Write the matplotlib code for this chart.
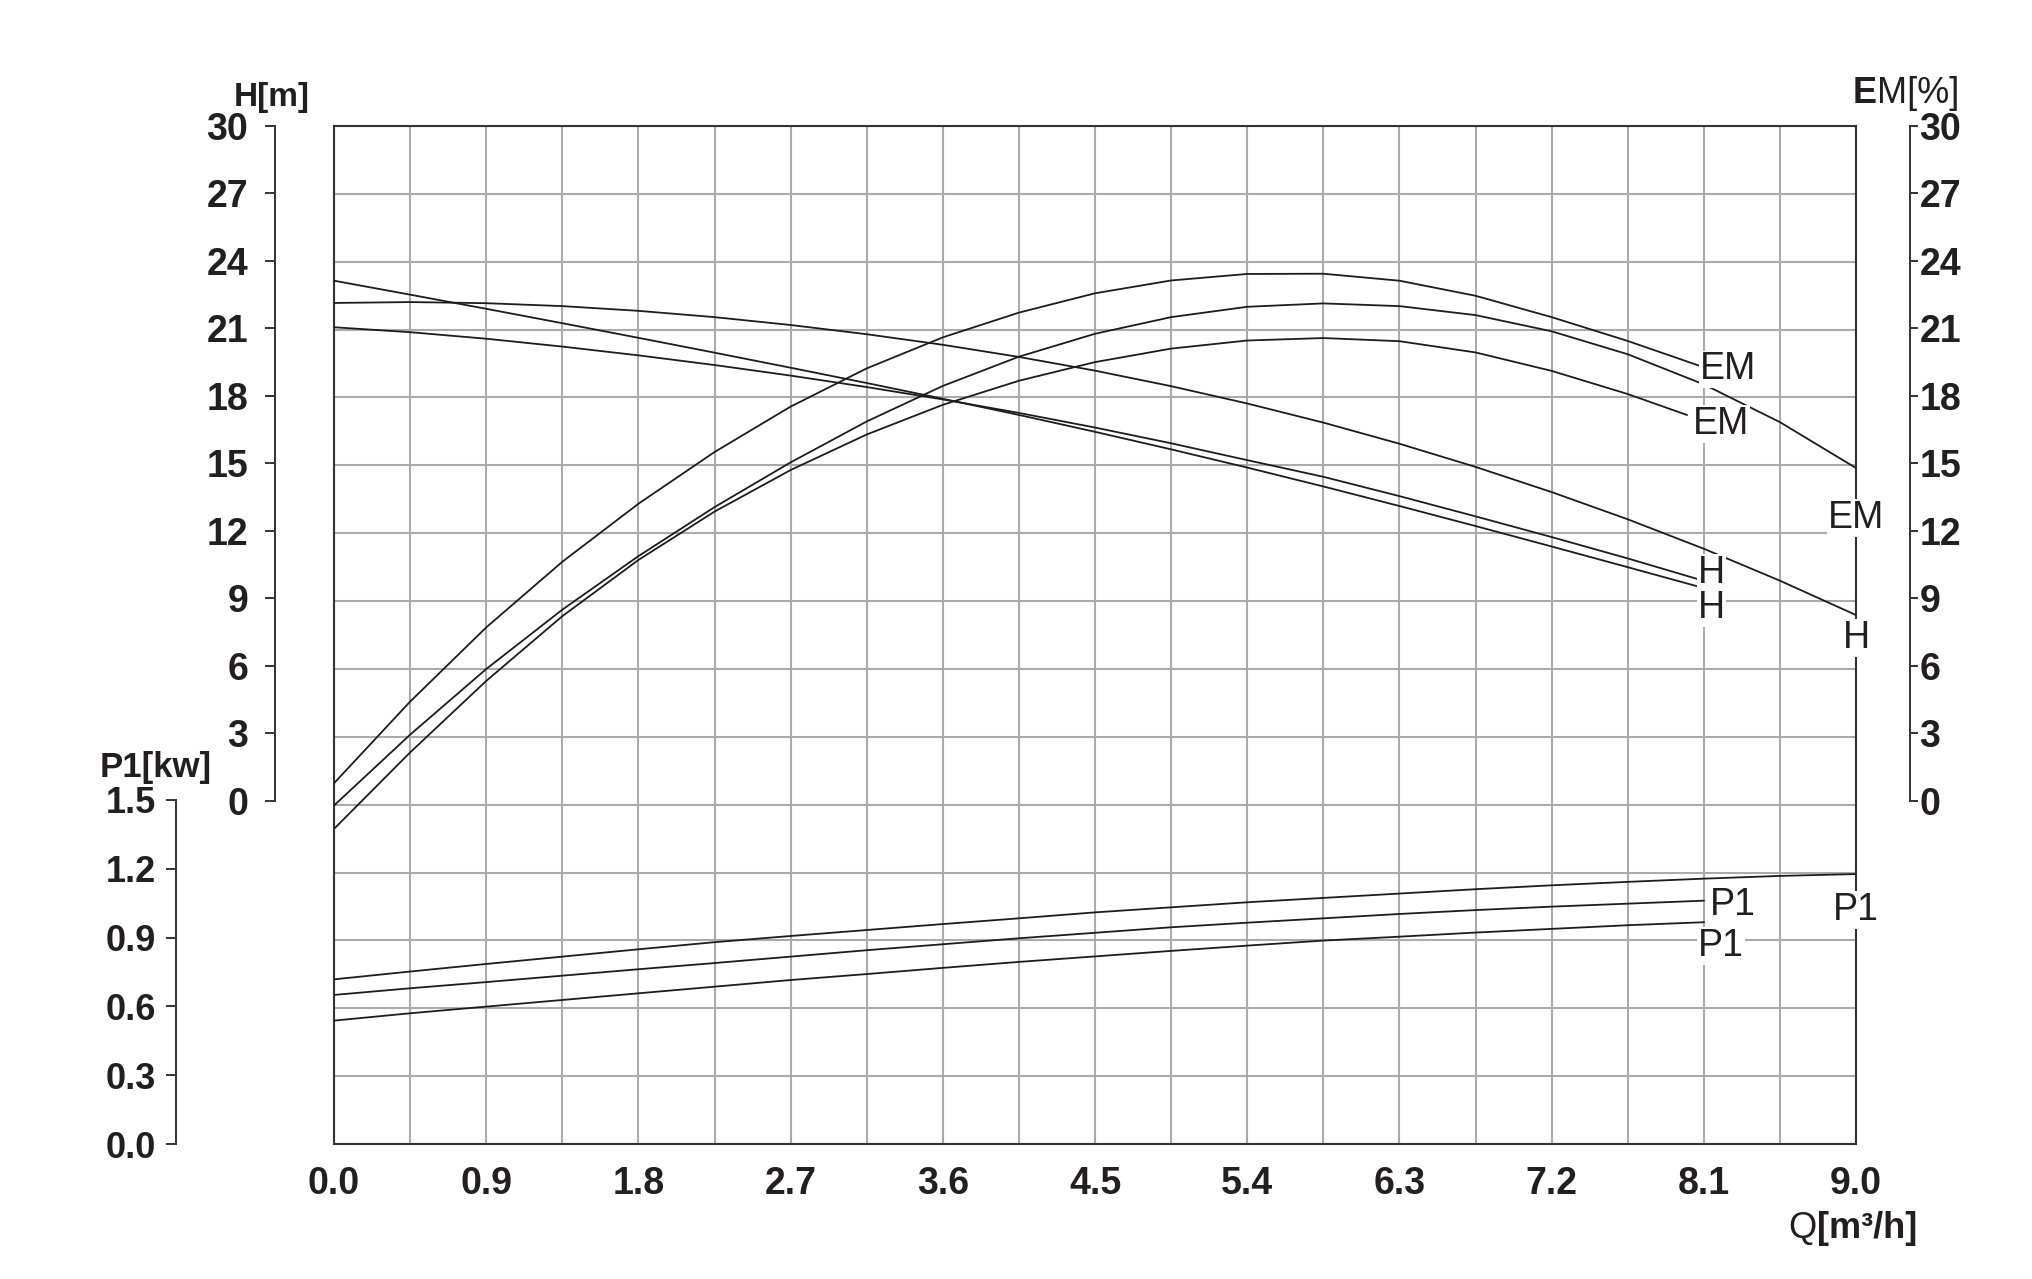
import matplotlib
matplotlib.use("Agg")
import matplotlib.pyplot as plt
import numpy as np

plt.rcParams['font.family'] = ['Liberation Sans', 'DejaVu Sans']

# flow Q [m3/h], one point per minor grid column
q_full = [0.0, 0.45, 0.9, 1.35, 1.8, 2.25, 2.7, 3.15, 3.6, 4.05, 4.5,
          4.95, 5.4, 5.85, 6.3, 6.75, 7.2, 7.65, 8.1, 8.55, 9.0]
q_81 = q_full[:19]
q_80 = q_full[:18] + [8.0]

# head H [m]
head_a = [23.12, 22.50, 21.87, 21.23, 20.58, 19.92, 19.25, 18.57, 17.87, 17.15,
          16.40, 15.62, 14.81, 13.97, 13.10, 12.21, 11.30, 10.38, 9.45]
head_b = [22.13, 22.17, 22.12, 21.99, 21.78, 21.50, 21.15, 20.74, 20.27, 19.73,
          19.12, 18.43, 17.66, 16.81, 15.87, 14.84, 13.72, 12.51, 11.20, 9.78, 8.25]
head_c = [21.05, 20.83, 20.54, 20.19, 19.80, 19.37, 18.90, 18.39, 17.84, 17.24,
          16.59, 15.89, 15.14, 14.40, 13.54, 12.64, 11.72, 10.77, 9.77]

# efficiency EM [%]
em_a = [0.77, 4.40, 7.70, 10.62, 13.20, 15.50, 17.52, 19.22, 20.60, 21.70,
        22.56, 23.13, 23.42, 23.43, 23.12, 22.45, 21.50, 20.44, 19.27]
em_b = [-0.22, 2.93, 5.85, 8.49, 10.87, 13.05, 15.04, 16.86, 18.44, 19.74,
        20.76, 21.50, 21.96, 22.11, 21.99, 21.59, 20.87, 19.85, 18.51, 16.83, 14.79]
em_c = [-1.26, 2.14, 5.32, 8.20, 10.70, 12.85, 14.70, 16.28, 17.60, 18.67,
        19.50, 20.10, 20.46, 20.57, 20.43, 19.93, 19.11, 18.08, 17.15]

# power P1 [kW]
p1_a = [0.718, 0.752, 0.785, 0.817, 0.849, 0.880, 0.907, 0.933, 0.959, 0.984,
        1.010, 1.032, 1.054, 1.073, 1.092, 1.111, 1.128, 1.143, 1.157, 1.169, 1.177]
p1_b = [0.650, 0.679, 0.706, 0.734, 0.762, 0.789, 0.817, 0.845, 0.871, 0.897,
        0.921, 0.945, 0.965, 0.984, 1.003, 1.020, 1.035, 1.048, 1.061]
p1_c = [0.538, 0.570, 0.599, 0.628, 0.657, 0.686, 0.715, 0.741, 0.768, 0.794,
        0.818, 0.842, 0.865, 0.887, 0.904, 0.922, 0.938, 0.954, 0.967]

x_ticks = [0.0, 0.9, 1.8, 2.7, 3.6, 4.5, 5.4, 6.3, 7.2, 8.1, 9.0]
h_ticks = [0, 3, 6, 9, 12, 15, 18, 21, 24, 27, 30]
p_ticks = [0.0, 0.3, 0.6, 0.9, 1.2, 1.5]

W, H = 2032, 1279
fig = plt.figure(figsize=(W / 100, H / 100), dpi=100)
txt = '#231f20'
ink = '#1c1c1c'


def rect(x0, y0, x1, y1):
    return [x0 / W, 1 - y1 / H, (x1 - x0) / W, (y1 - y0) / H]


def fx(x):
    return x / W


def fy(y):
    return 1 - y / H


# frame of the plot in pixels
L, R, T, B = 334, 1856, 126, 1144
H0, H30 = 800, 124.3     # pixel rows of 0 and 30 on the H / EM scale
P0, P15 = 1144, 800      # pixel rows of 0.0 and 1.5 on the P1 scale

# grid + x axis
ax_grid = fig.add_axes(rect(L, T, R, B))
ax_grid.set_xlim(0, 9)
ax_grid.set_ylim(0, 15)
ax_grid.set_xticks(x_ticks, labels=[f'{v:.1f}' for v in x_ticks],
                   fontsize=27, fontweight='bold', color=txt)
ax_grid.set_xticks(np.arange(0, 9.01, 0.45), minor=True)
ax_grid.set_yticks(np.arange(0, 16, 1))
ax_grid.set_yticklabels([])
ax_grid.tick_params(axis='both', which='both', length=0)
ax_grid.tick_params(axis='x', pad=16)
ax_grid.grid(True, which='both', color='#ababab', lw=1.5)
for s in ax_grid.spines.values():
    s.set_color('#333333')
    s.set_linewidth(1.5)

# H scale (left)
hpp = (H0 - H30) / 30
ax_h = fig.add_axes(rect(L, T, R, B), facecolor='none')
ax_h.set_xlim(0, 9)
ax_h.set_ylim(-(B - H0) / hpp, 30 + (H30 - T) / hpp)
for s in ['top', 'right', 'bottom']:
    ax_h.spines[s].set_visible(False)
ax_h.spines['left'].set_position(('axes', (275 - L) / (R - L)))
ax_h.spines['left'].set_bounds(0, 30)
ax_h.spines['left'].set_color('#333333')
ax_h.spines['left'].set_linewidth(1.4)
ax_h.set_xticks([])
ax_h.set_yticks(h_ticks, labels=[str(v) for v in h_ticks],
                fontsize=27, fontweight='bold', color=txt)
ax_h.tick_params(axis='y', direction='out', length=7.2, width=1.4,
                 color='#333333', pad=12)

# EM scale (right)
ax_em = ax_h.twinx()
ax_em.set_ylim(ax_h.get_ylim())
for s in ['top', 'left', 'bottom']:
    ax_em.spines[s].set_visible(False)
ax_em.spines['right'].set_position(('axes', (1910 - L) / (R - L)))
ax_em.spines['right'].set_bounds(0, 30)
ax_em.spines['right'].set_color('#333333')
ax_em.spines['right'].set_linewidth(1.4)
ax_em.set_yticks(h_ticks, labels=[str(v) for v in h_ticks],
                 fontsize=27, fontweight='bold', color=txt)
ax_em.tick_params(axis='y', direction='out', length=5.8, width=1.4,
                  color='#333333', pad=1)

# P1 scale (left, lower)
ppp = (P0 - P15) / 1.5
ax_p = fig.add_axes(rect(L, T, R, B), facecolor='none')
ax_p.set_xlim(0, 9)
ax_p.set_ylim(0, (B - T) / ppp)
for s in ['top', 'right', 'bottom']:
    ax_p.spines[s].set_visible(False)
ax_p.spines['left'].set_position(('axes', (176 - L) / (R - L)))
ax_p.spines['left'].set_bounds(0, 1.5)
ax_p.spines['left'].set_color('#333333')
ax_p.spines['left'].set_linewidth(1.4)
ax_p.set_xticks([])
ax_p.set_yticks(p_ticks, labels=[f'{v:.1f}' for v in p_ticks],
                fontsize=26, fontweight='bold', color=txt)
ax_p.tick_params(axis='y', direction='out', length=7.2, width=1.4,
                 color='#333333', pad=7)

# curves
lw = 1.3
ax_h.plot(q_81, head_a, color=ink, lw=lw)
ax_h.plot(q_full, head_b, color=ink, lw=lw)
ax_h.plot(q_81, head_c, color=ink, lw=lw)
ax_em.plot(q_81, em_a, color=ink, lw=lw)
ax_em.plot(q_full, em_b, color=ink, lw=lw)
ax_em.plot(q_80, em_c, color=ink, lw=lw)
ax_p.plot(q_full, p1_a, color=ink, lw=lw)
ax_p.plot(q_81, p1_b, color=ink, lw=lw)
ax_p.plot(q_81, p1_c, color=ink, lw=lw)

# curve end labels, offset from each curve's last point (pixels)
box = dict(facecolor='white', edgecolor='none', pad=0.5)


def tag(ax, text, qs, vs, dx, dy, ha='left'):
    ax.annotate(text, xy=(qs[-1], vs[-1]), xytext=(dx, dy),
                textcoords='offset pixels', ha=ha, va='baseline',
                fontsize=27, color=txt, bbox=box, annotation_clip=False)


tag(ax_em, 'EM', q_81, em_a, -4, -12)
tag(ax_em, 'EM', q_80, em_c, 6, -19)
tag(ax_em, 'EM', q_full, em_b, 0, -60, ha='center')
tag(ax_h, 'H', q_81, head_c, -6, -2)
tag(ax_h, 'H', q_81, head_a, -6, -30)
tag(ax_h, 'H', q_full, head_b, 0, -33, ha='center')
tag(ax_p, 'P1', q_81, p1_b, 6, -14)
tag(ax_p, 'P1', q_81, p1_c, -6, -34)
tag(ax_p, 'P1', q_full, p1_a, 0, -46, ha='center')

# axis titles
fig.text(fx(310), fy(106), 'H[m]', ha='right', va='baseline',
         fontsize=24, fontweight='bold', color=txt)
fig.text(fx(212), fy(777), 'P1[kw]', ha='right', va='baseline',
         fontsize=25, fontweight='bold', color=txt)
fig.text(fx(1853), fy(103), 'E', ha='left', va='baseline',
         fontsize=26, fontweight='bold', color=txt)
fig.text(fx(1877), fy(103), 'M[%]', ha='left', va='baseline',
         fontsize=26, color=txt)
fig.text(fx(1788), fy(1238), 'Q', ha='left', va='baseline',
         fontsize=26, color=txt)
fig.text(fx(1817), fy(1238), '[m³/h]', ha='left', va='baseline',
         fontsize=26, fontweight='bold', color=txt)

fig.savefig('out.png', dpi=100)
